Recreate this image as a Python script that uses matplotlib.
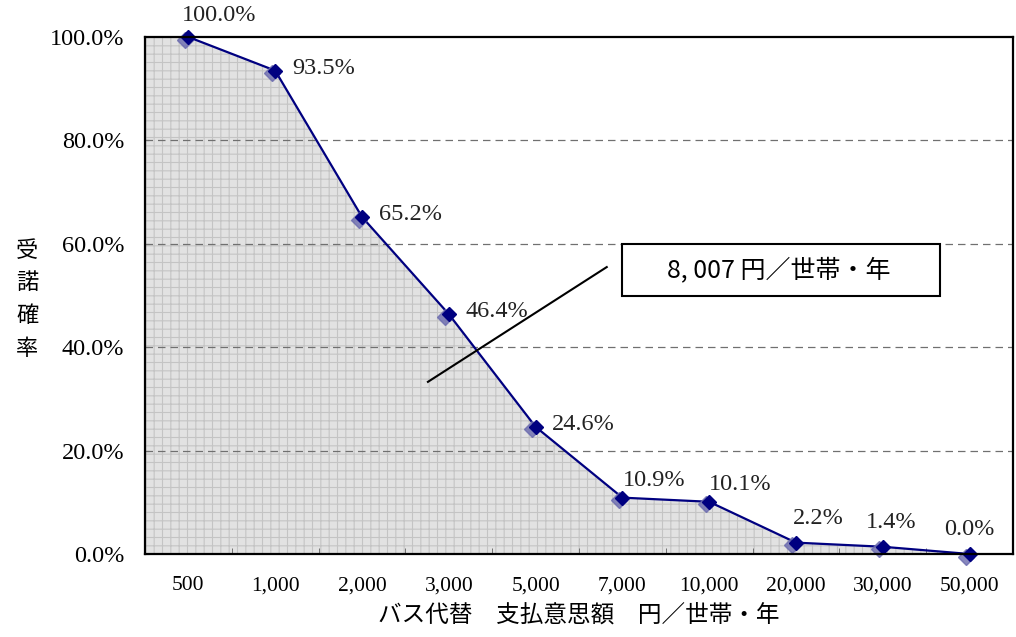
import matplotlib
matplotlib.use("Agg")
import matplotlib.pyplot as plt
import numpy as np
from matplotlib.patches import Rectangle
from matplotlib.ticker import FixedLocator, FuncFormatter

# データ
金額 = ["500", "1,000", "2,000", "3,000", "5,000", "7,000", "10,000", "20,000", "30,000", "50,000"]
受諾率 = [100.0, 93.5, 65.2, 46.4, 24.6, 10.9, 10.1, 2.2, 1.4, 0.0]
y目盛 = [0, 20, 40, 60, 80, 100]
中央値ラベル = "8, 007 円／世帯・年"
x軸ラベル = "バス代替　支払意思額　円／世帯・年"
y軸ラベル = "受\n諾\n確\n率"

serif = ["Liberation Serif", "Noto Sans CJK JP"]
gothic = ["Noto Sans CJK JP", "DejaVu Sans"]
plt.rcParams["hatch.linewidth"] = 0.8

fig = plt.figure(figsize=(10.16, 6.37), dpi=100)
ax = fig.add_axes([0.1427, 0.1303, 0.8543, 0.8116])

x = np.arange(len(金額))
navy = "#000080"

# 網掛けの面
xs = np.concatenate([[x[0] - 0.5], x, [x[-1] + 0.5]])
ys = np.concatenate([[受諾率[0]], 受諾率, [受諾率[-1]]])
ax.fill_between(xs, ys, 0, facecolor="#e2e2e2", edgecolor="#c4c4c4",
                hatch="++", linewidth=0, zorder=1)

# 線とマーカー
ax.plot(x, 受諾率, color=navy, lw=1.6, zorder=3)
ax.plot(x - 0.04, np.array(受諾率) - 0.5, "D", color="#6a6aae", ms=8,
        alpha=0.8, zorder=3, clip_on=False)
ax.plot(x, 受諾率, "D", color=navy, ms=7, zorder=4, clip_on=False)

# データラベル
offsets = [(-5, 8), (12, -6), (12, -6), (12, -6), (12, -6),
           (0, 5), (0, 5), (-2, 10), (-12, 10), (-18, 10)]
for xi, v, (dx, dy) in zip(x, 受諾率, offsets):
    ax.annotate(f"{v:.1f}%", (xi, v), xytext=(dx, dy), textcoords="offset points",
                ha="left", va="bottom", fontsize=17.5,
                family=serif, color="#222222", zorder=5, annotation_clip=False)

# 中央値の注記
ax.plot([2.76, 4.82], [33.3, 55.5], color="black", lw=1.5, zorder=5)
ax.add_patch(Rectangle((5.0, 49.9), 3.66, 10.1, facecolor="white",
                       edgecolor="black", linewidth=1.5, zorder=6))
ax.text(6.80, 54.9, 中央値ラベル, ha="center", va="center", fontsize=18,
        family=gothic, zorder=7)

# 軸
ax.set_xlim(-0.5, len(金額) - 0.5)
ax.set_ylim(0, 100)
ax.set_xticks(x)
ax.set_xticklabels(金額, fontsize=15.5, family=serif)
ax.xaxis.set_minor_locator(FixedLocator(np.arange(0.5, len(金額) - 1, 1)))
ax.tick_params(axis="x", which="major", length=0, pad=16)
ax.tick_params(axis="x", which="minor", direction="in", length=4, color="#606060")
ax.set_yticks(y目盛)
ax.yaxis.set_major_formatter(FuncFormatter(lambda v, p: f"{v:.1f}%"))
ax.tick_params(axis="y", direction="in", length=3, pad=15, labelsize=17.5, color="#606060")
for lab in ax.get_yticklabels():
    lab.set_family(serif)
for g in y目盛[1:-1]:
    ax.axhline(g, color="#707070", lw=0.9, ls=(0, (6, 4)), zorder=2)
for s in ax.spines.values():
    s.set_linewidth(1.6)
    s.set_zorder(8)

ax.set_xlabel(x軸ラベル, fontsize=17, family=gothic, labelpad=6)
fig.text(0.027, 0.53, y軸ラベル, fontsize=16, family=gothic, ha="center",
         va="center", linespacing=1.55)

fig.savefig("out.png", dpi=100)
